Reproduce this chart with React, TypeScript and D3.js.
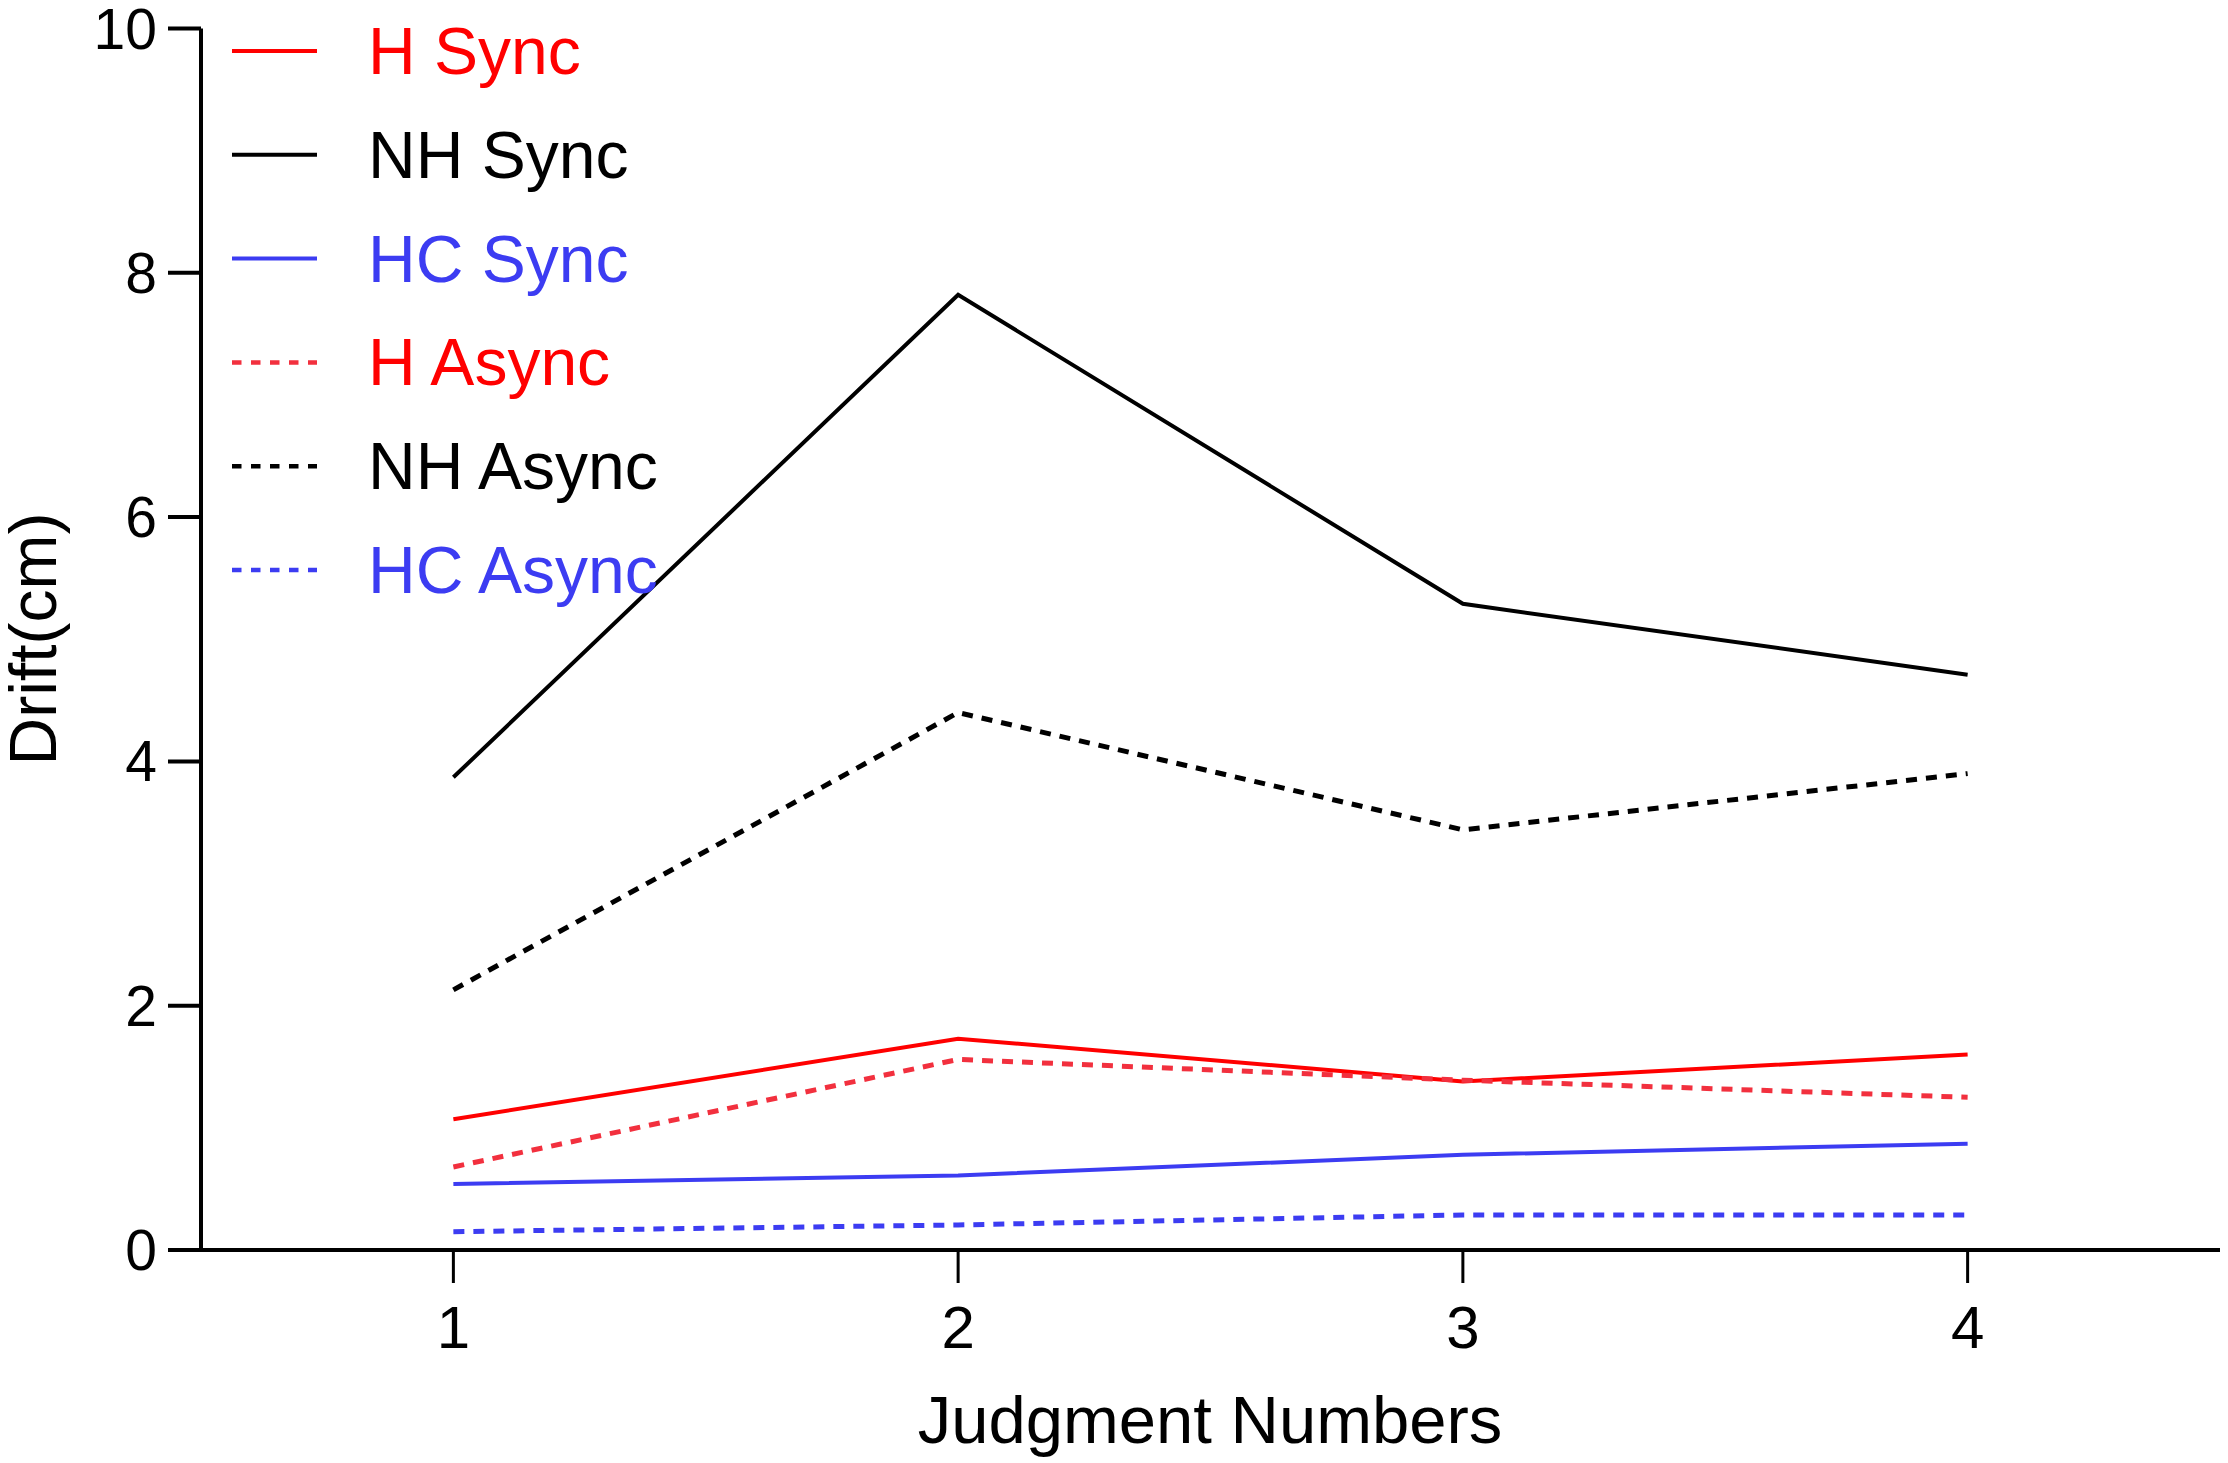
import React, { useEffect } from "react";
import * as d3 from "d3";

const judgments = [1, 2, 3, 4];
const hSync = [1.07, 1.73, 1.38, 1.6];
const nhSync = [3.87, 7.82, 5.29, 4.71];
const hcSync = [0.54, 0.61, 0.78, 0.87];
const hAsync = [0.68, 1.56, 1.39, 1.25];
const nhAsync = [2.13, 4.4, 3.44, 3.9];
const hcAsync = [0.15, 0.205, 0.287, 0.287];
const yTicks = [0, 2, 4, 6, 8, 10];
const xTickLabels = ["1", "2", "3", "4"];

const RED = "#ff0000";
const RED_D = "#f2303e";
const BLUE = "#3c3cf2";
const BLACK = "#000000";

const series = [
  { name: "H Sync", values: hSync, color: RED, dashed: false },
  { name: "NH Sync", values: nhSync, color: BLACK, dashed: false },
  { name: "HC Sync", values: hcSync, color: BLUE, dashed: false },
  { name: "H Async", values: hAsync, color: RED_D, dashed: true },
  { name: "NH Async", values: nhAsync, color: BLACK, dashed: true },
  { name: "HC Async", values: hcAsync, color: BLUE, dashed: true },
];

const W = 2228;
const H = 1463;
const FONT = "'Liberation Sans', Arial, Helvetica, sans-serif";

export default function App() {
  useEffect(() => {
    document.body.style.margin = "0";
  }, []);

  const x = d3.scaleLinear().domain([0.5, 4.5]).range([201, 2220]);
  const y = d3.scaleLinear().domain([0, 10]).range([1250, 28.5]);
  const line = d3
    .line<number>()
    .x((_, i) => x(judgments[i]))
    .y((d) => y(d));

  const legendTextColor = (c: string) => (c === RED_D ? RED : c);

  return (
    <svg width={W} height={H} style={{ display: "block", background: "#fff" }} fontFamily={FONT}>
      {/* data lines */}
      {series.map((s) => (
        <path
          key={s.name}
          d={line(s.values) || ""}
          fill="none"
          stroke={s.color}
          strokeWidth={s.dashed ? 5 : 4}
          strokeDasharray={s.dashed ? "11,9" : undefined}
          strokeLinejoin="miter"
        />
      ))}

      {/* y axis */}
      <line x1={201} x2={201} y1={y(10)} y2={y(0)} stroke="#000" strokeWidth={4} />
      {yTicks.map((t) => (
        <g key={t}>
          <line x1={168} x2={201} y1={y(t)} y2={y(t)} stroke="#000" strokeWidth={4} />
          <text x={157} y={y(t) + 20} textAnchor="end" fontSize={57} fill="#000">
            {t}
          </text>
        </g>
      ))}

      {/* x axis */}
      <line x1={168} x2={2220} y1={y(0)} y2={y(0)} stroke="#000" strokeWidth={4} />
      {judgments.map((j, i) => (
        <g key={j}>
          <line x1={x(j)} x2={x(j)} y1={y(0)} y2={1283} stroke="#000" strokeWidth={3} />
          <text x={x(j)} y={1348} textAnchor="middle" fontSize={60} fill="#000">
            {xTickLabels[i]}
          </text>
        </g>
      ))}

      {/* axis titles */}
      <text x={1210} y={1443} textAnchor="middle" fontSize={67} fill="#000">
        Judgment Numbers
      </text>
      <text
        transform={`translate(56, 639) rotate(-90)`}
        textAnchor="middle"
        fontSize={66}
        fill="#000"
      >
        Drift(cm)
      </text>

      {/* legend */}
      {series.map((s, i) => {
        const ly = 51 + i * 103.8;
        return (
          <g key={s.name}>
            <line
              x1={232}
              x2={317}
              y1={ly}
              y2={ly}
              stroke={s.color}
              strokeWidth={s.dashed ? 4.5 : 4}
              strokeDasharray={s.dashed ? "9.5,9.5" : undefined}
            />
            <text x={368} y={ly + 23} fontSize={66} fill={legendTextColor(s.color)}>
              {s.name}
            </text>
          </g>
        );
      })}
    </svg>
  );
}
